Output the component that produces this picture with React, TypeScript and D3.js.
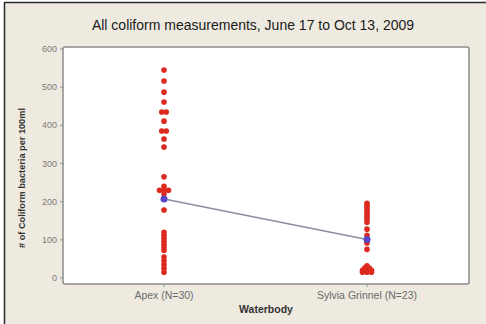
import React from "react";
import * as d3 from "d3";

// Coliform counts per 100 ml, one entry per measurement
const groups = ["Apex (N=30)", "Sylvia Grinnel (N=23)"];
const apexValues = [
  545, 516, 487, 461, 435, 435, 411, 385, 385, 364, 343,
  265, 240, 230, 230, 230, 220, 178,
  120, 112, 104, 96, 88, 80, 72, 55, 45, 35, 25, 15,
];
const sylviaValues = [
  196, 190, 184, 178, 172, 166, 160, 153, 146,
  128, 112, 100, 92, 75,
  32, 26, 26, 20, 20, 20, 15, 15, 15,
];
const groupMeans = [207, 101];
const yTicks = [0, 100, 200, 300, 400, 500, 600];

const W = 486;
const H = 324;
const plot = { left: 63, right: 469, top: 47, bottom: 284 };

export default function App() {
  const y = d3.scaleLinear().domain([0, 600]).range([278, 49]);
  const x = d3
    .scalePoint<string>()
    .domain(groups)
    .range([164, 367]);

  const series = [apexValues, sylviaValues];

  // spread repeated values side by side around the category position
  const points: { cx: number; cy: number; key: string }[] = [];
  series.forEach((vals, gi) => {
    const counts = d3.rollup(vals, (v) => v.length, (d) => d);
    const seen = new Map<number, number>();
    vals.forEach((v, i) => {
      const n = counts.get(v) || 1;
      const k = seen.get(v) || 0;
      seen.set(v, k + 1);
      const off = (k - (n - 1) / 2) * 4.5;
      points.push({ cx: (x(groups[gi]) as number) + off, cy: y(v), key: `${gi}-${i}` });
    });
  });

  const meanLine = d3
    .line<number>()
    .x((_, i) => x(groups[i]) as number)
    .y((d) => y(d));

  const font = "Arial, 'Liberation Sans', sans-serif";

  return (
    <svg width={W} height={H} style={{ position: "absolute", left: 0, top: 0 }}>
      <rect x={0} y={0} width={W} height={H} fill="#ffffff" />
      <rect x={4} y={2} width={W - 4} height={H - 2} fill="#eeeae0" />
      <line x1={4} y1={2.5} x2={W} y2={2.5} stroke="#2a2a2a" strokeWidth={1.5} />
      <line x1={4.5} y1={2} x2={4.5} y2={H} stroke="#2a2a2a" strokeWidth={1.5} />

      <text
        x={253}
        y={30}
        textAnchor="middle"
        fontFamily={font}
        fontSize={14}
        fill="#1a1a1a"
      >
        All coliform measurements, June 17 to Oct 13, 2009
      </text>

      <rect
        x={plot.left}
        y={plot.top}
        width={plot.right - plot.left}
        height={plot.bottom - plot.top}
        rx={2}
        fill="#ffffff"
        stroke="#8c8c8c"
        strokeWidth={1.5}
      />

      {yTicks.map((t) => (
        <g key={t}>
          <line x1={plot.left - 3} x2={plot.left} y1={y(t)} y2={y(t)} stroke="#8c8c8c" />
          <text
            x={plot.left - 6}
            y={y(t) + 3}
            textAnchor="end"
            fontFamily={font}
            fontSize={9}
            fill="#7a7a7a"
          >
            {t}
          </text>
        </g>
      ))}

      {groups.map((g) => (
        <g key={g}>
          <line
            x1={x(g) as number}
            x2={x(g) as number}
            y1={plot.bottom}
            y2={plot.bottom + 3}
            stroke="#8c8c8c"
          />
          <text
            x={x(g) as number}
            y={299}
            textAnchor="middle"
            fontFamily={font}
            fontSize={10.5}
            fill="#6a6a6a"
          >
            {g}
          </text>
        </g>
      ))}

      <text
        x={266}
        y={313}
        textAnchor="middle"
        fontFamily={font}
        fontSize={10.5}
        fontWeight="bold"
        fill="#333"
      >
        Waterbody
      </text>
      <text
        transform={`translate(25,178) rotate(-90)`}
        textAnchor="middle"
        fontFamily={font}
        fontSize={9.2}
        fontWeight="bold"
        fill="#333"
      >
        # of Coliform bacteria per 100ml
      </text>

      {points.map((p) => (
        <circle key={p.key} cx={p.cx} cy={p.cy} r={2.8} fill="#dd2a1e" />
      ))}

      <path d={meanLine(groupMeans) || ""} fill="none" stroke="#8a8d9c" strokeWidth={1.5} />
      {groupMeans.map((m, i) => (
        <circle key={i} cx={x(groups[i]) as number} cy={y(m)} r={3.5} fill="#5a44c8" />
      ))}
    </svg>
  );
}
